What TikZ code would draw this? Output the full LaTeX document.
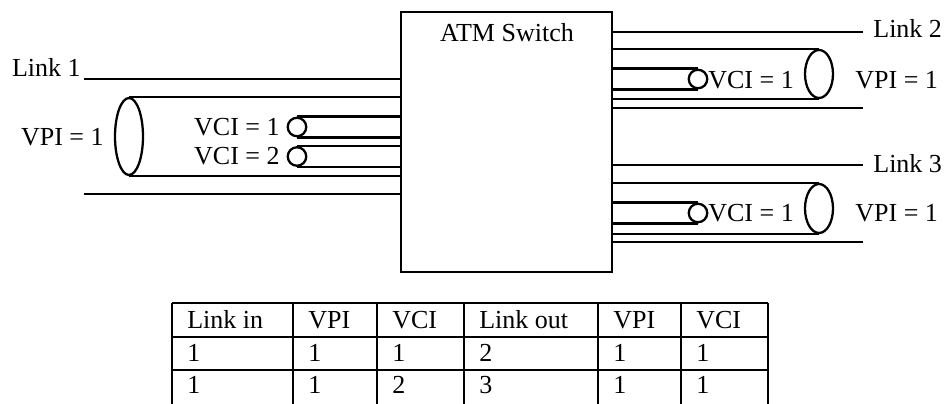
\documentclass[tikz,border=0pt]{standalone}
\usepackage{fontspec}
\setmainfont{Liberation Serif}
\usetikzlibrary{shapes.geometric}
\begin{document}
\begin{tikzpicture}[
	x=0.02cm, y=-0.02cm,
	font=\fontsize{14.8}{17}\selectfont,
	wire/.style={ line width=1.3pt },
	switchbox/.style={ draw, line width=1.4pt, minimum width=4.22cm, minimum height=5.2cm, inner sep=0pt },
	vpiend/.style={ ellipse, draw, line width=1.3pt, minimum width=0.56cm, inner sep=0pt },
	vciend/.style={ circle, draw, line width=1.3pt, minimum size=0.37cm, inner sep=0pt },
	txt/.style={ inner sep=0pt }
]
\useasboundingbox (0,0) rectangle (949,404);

\node at (506.5,142) (sw) [switchbox] {};
\node at (507,42) (swname) [txt,anchor=base] {ATM Switch};

\coordinate (l1) at (84,79);
\coordinate (l1b) at (84,194);
\node at (129,136.5) (vp1) [vpiend,minimum height=1.54cm] {};
\node at (297,127) (vc1) [vciend] {};
\node at (297,156.5) (vc2) [vciend] {};
\foreach \p in {l1,l1b} \draw[wire] (\p) -- (\p -| sw.west);
\foreach \p in {vp1,vc1,vc2} \draw[wire] (\p.north) -- (\p.north -| sw.west) (\p.south) -- (\p.south -| sw.west);
\node at (81,77) (l1name) [txt,anchor=base east] {Link 1};
\node at (104,146) (vp1name) [txt,anchor=base east] {VPI = 1};
\node at (280,136) (vc1name) [txt,anchor=base east] {VCI = 1};
\node at (280,165) (vc2name) [txt,anchor=base east] {VCI = 2};

\coordinate (l2) at (863,32);
\coordinate (l2b) at (863,108);
\coordinate (l3) at (863,165);
\coordinate (l3b) at (863,242);
\node at (819,74) (vp2) [vpiend,minimum height=0.96cm] {};
\node at (819,208.5) (vp3) [vpiend,minimum height=0.98cm] {};
\node at (698,79) (vc3) [vciend] {};
\node at (698,213) (vc4) [vciend] {};
\foreach \p in {l2,l2b,l3,l3b} \draw[wire] (sw.east |- \p) -- (\p);
\foreach \p in {vp2,vp3,vc3,vc4} \draw[wire] (sw.east |- \p.north) -- (\p.north) (sw.east |- \p.south) -- (\p.south);
\node at (873,38) (l2name) [txt,anchor=base west] {Link 2};
\node at (873,173) (l3name) [txt,anchor=base west] {Link 3};
\node at (708,89) (vc3name) [txt,anchor=base west] {VCI = 1};
\node at (855,89) (vp2name) [txt,anchor=base west] {VPI = 1};
\node at (708,222) (vc4name) [txt,anchor=base west] {VCI = 1};
\node at (855,222) (vp3name) [txt,anchor=base west] {VPI = 1};

\foreach \y in {303,337,370} \draw[wire] (172,\y) -- (768,\y);
\foreach \x in {172,293,377,464,598,681,768} \draw[wire] (\x,303) -- (\x,404);
\foreach \x/\a/\b/\c [count=\i] in {172/Link in/1/1, 293/VPI/1/1, 377/VCI/1/2, 464/Link out/2/3, 598/VPI/1/1, 681/VCI/1/1} {
	\node at (\x+15,329) (hd\i) [txt,anchor=base west] {\a};
	\node at (\x+15,361.5) (ra\i) [txt,anchor=base west] {\b};
	\node at (\x+15,394) (rb\i) [txt,anchor=base west] {\c};
}

\end{tikzpicture}
\end{document}
